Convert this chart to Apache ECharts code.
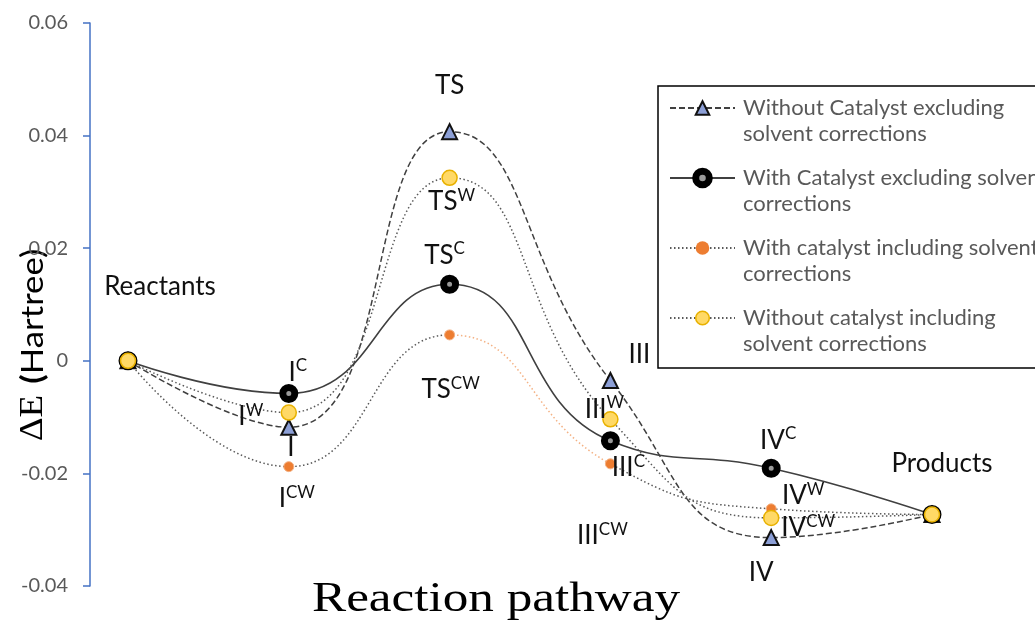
<!DOCTYPE html>
<html><head><meta charset="utf-8">
<script src="https://cdn.jsdelivr.net/npm/echarts@6/dist/echarts.min.js"></script>
<style>html,body{margin:0;padding:0;background:#fff}#chart{width:1035px;height:625px}</style>
</head><body><div id="chart"></div>
<script>
// ---- data ----
const categories = ['Reactants', 'I', 'TS', 'III', 'IV', 'Products'];
const seriesNames = [
  'Without Catalyst excluding solvent corrections',
  'With Catalyst excluding solvent corrections',
  'With catalyst including solvent corrections',
  'Without catalyst including solvent corrections'
];
const legendTexts = [
  'Without Catalyst excluding\nsolvent corrections',
  'With Catalyst excluding solvent\ncorrections',
  'With catalyst including solvent\ncorrections',
  'Without catalyst including\nsolvent corrections'
];
const noCatNoSolv = [0, -0.0118, 0.0407, -0.0035, -0.0314, -0.0273];
const catNoSolv   = [0, -0.0058, 0.0136, -0.0142, -0.0191, -0.0273];
const catSolv     = [0, -0.0188, 0.0046, -0.0183, -0.0263, -0.0273];
const noCatSolv   = [0, -0.0092, 0.0325, -0.0104, -0.0279, -0.0273];
const yMin = -0.04, yMax = 0.06, yStep = 0.02;
// point annotations: base^superscript
const noCatNoSolvLabels = ['', 'I', 'TS', 'III', 'IV', ''];
const catNoSolvLabels   = ['', 'I^C', 'TS^C', 'III^CW', 'IV^C', ''];
const catSolvLabels     = ['', 'I^CW', 'TS^CW', 'III^C', 'IV^W', ''];
const noCatSolvLabels   = ['Reactants', 'I^W', 'TS^W', 'III^W', 'IV^CW', 'Products'];

// ---- label placement (style) ----
const LABEL_OFFSETS = [
  [null, [2, 20], [0, -46], [29, -26], [-10, 35], null],
  [null, [9, -21], [-5, -29], [-8, 95], [7, -28], null],
  [null, [8, 32], [1, 55], [18, 4], [32, -13], null],
  [[32, -74], [-38, 4], [2, 24], [-6, -10], [37, 10], [10, -51]]
];
const LABEL_FONT = 'Lato';
const labelRich = {
  b: { fontFamily: LABEL_FONT, fontSize: 26, lineHeight: 30, color: '#111' },
  s: { fontFamily: LABEL_FONT, fontSize: 17, lineHeight: 18, color: '#111', verticalAlign: 'top' }
};
function fmtLabel(t) {
  const parts = t.split('^');
  return '{b|' + parts[0] + '}' + (parts[1] ? '{s|' + parts[1] + '}' : '');
}
function buildData(values, labels, offsets) {
  return values.map((v, i) => {
    const item = { value: v };
    if (labels[i]) {
      item.label = {
        show: true, position: 'inside', offset: offsets[i],
        formatter: fmtLabel(labels[i]), rich: labelRich
      };
    }
    return item;
  });
}

const GRAY = '#595959';
const DARK = '#404040';
const orangeSegment = {
  type: 'linear', x: 0, y: 0, x2: 1, y2: 0,
  colorStops: [
    { offset: 0, color: GRAY }, { offset: 0.4, color: GRAY },
    { offset: 0.4, color: '#F4B183' }, { offset: 0.6, color: '#F4B183' },
    { offset: 0.6, color: GRAY }, { offset: 1, color: GRAY }
  ]
};

const chart = echarts.init(document.getElementById('chart'));
const option = {
  animation: false,
  backgroundColor: '#fff',
  grid: { left: 128, right: 103, top: 23, bottom: 39, containLabel: false },
  xAxis: { type: 'category', data: categories, boundaryGap: false, show: false },
  yAxis: {
    type: 'value', min: yMin, max: yMax, interval: yStep, offset: 38,
    axisLine: { show: true, lineStyle: { color: '#4472C4', width: 1.5 } },
    axisTick: { show: true, length: 7, lineStyle: { color: '#4472C4', width: 1.5 } },
    axisLabel: { color: GRAY, fontSize: 20, fontFamily: 'Lato', margin: 22 },
    splitLine: { show: false }
  },
  legend: {
    left: 658, top: 86, orient: 'vertical', selectedMode: false,
    itemWidth: 65, itemHeight: 17, itemGap: -8,
    padding: [-17, 10, 11, 11],
    borderColor: '#000', borderWidth: 1.5, backgroundColor: '#fff',
    textStyle: { fontFamily: 'Lato', fontSize: 22, color: GRAY, lineHeight: 26, padding: [0, 0, 0, 3] },
    formatter: name => '\n' + legendTexts[seriesNames.indexOf(name)],
    data: [
      { name: seriesNames[0], itemStyle: { borderWidth: 2 } },
      { name: seriesNames[1], itemStyle: { borderWidth: 7 } },
      { name: seriesNames[2], itemStyle: { borderWidth: 0 }, lineStyle: { color: GRAY } },
      { name: seriesNames[3], itemStyle: { borderWidth: 1.5 } }
    ]
  },
  series: [
    {
      name: seriesNames[0], type: 'line', smooth: 0.5,
      data: buildData(noCatNoSolv, noCatNoSolvLabels, LABEL_OFFSETS[0]),
      symbol: 'triangle', symbolSize: 15,
      itemStyle: { color: '#8C9FD6', borderColor: '#111', borderWidth: 2 },
      lineStyle: { color: DARK, width: 1.5, type: [6, 3] }
    },
    {
      name: seriesNames[1], type: 'line', smooth: 0.5,
      data: buildData(catNoSolv, catNoSolvLabels, LABEL_OFFSETS[1]),
      symbol: 'circle', symbolSize: 12,
      itemStyle: { color: '#9a9a9a', borderColor: '#000', borderWidth: 7 },
      lineStyle: { color: DARK, width: 1.6, type: 'solid' }
    },
    {
      name: seriesNames[2], type: 'line', smooth: 0.5,
      data: buildData(catSolv, catSolvLabels, LABEL_OFFSETS[2]),
      symbol: 'circle', symbolSize: 10,
      itemStyle: { color: '#ED7D31', borderColor: '#F4B183', borderWidth: 1 },
      lineStyle: { color: orangeSegment, width: 1.5, type: [1.5, 2.5] }
    },
    {
      name: seriesNames[3], type: 'line', smooth: 0.5,
      data: buildData(noCatSolv, noCatSolvLabels, LABEL_OFFSETS[3]),
      symbol: 'circle', symbolSize: 15,
      itemStyle: { color: '#FFD966', borderColor: '#E8B100', borderWidth: 1.5 },
      lineStyle: { color: GRAY, width: 1.5, type: [1.5, 2.5] }
    }
  ],
  graphic: [
    {
      type: 'text', x: 496, y: 600, scaleX: 1.19,
      style: { text: 'Reaction pathway', fontFamily: 'Liberation Serif', fontSize: 43,
        fill: '#000', align: 'center', verticalAlign: 'middle' }
    },
    {
      type: 'text', x: 33, y: 345, rotation: Math.PI / 2, scaleX: 1.12,
      style: {
        text: '{d|ΔE}{g| }{p|(}{h|Hartree)}', align: 'center', verticalAlign: 'middle',
        rich: {
          d: { fontFamily: 'Liberation Serif', fontSize: 33, fill: '#000' },
          g: { fontFamily: 'Lato', fontSize: 30, width: 10 },
          p: { fontFamily: 'Lato', fontSize: 31, fontWeight: 'bold', fill: '#000' },
          h: { fontFamily: 'Lato', fontSize: 31, fill: '#000' }
        }
      }
    }
  ]
};
chart.setOption(option);
</script></body></html>
